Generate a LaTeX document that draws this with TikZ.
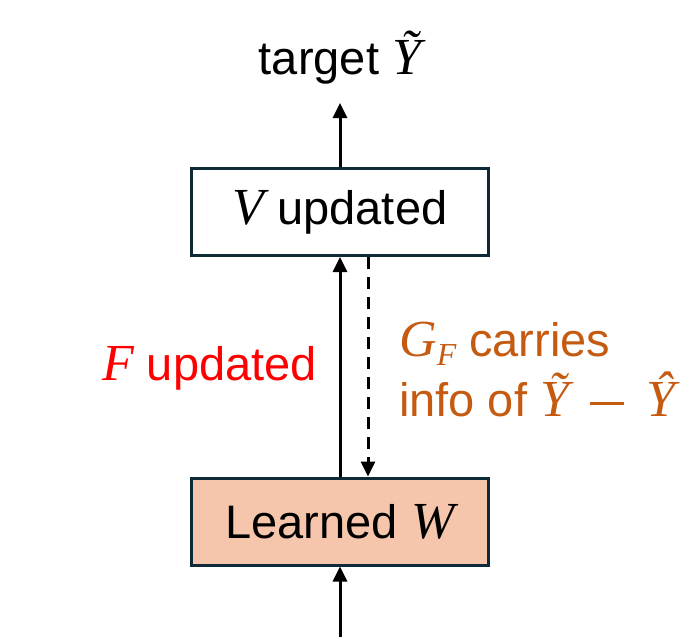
\documentclass[tikz,border=0pt]{standalone}
\usepackage{fontspec}
\setmainfont{Liberation Sans}
\newfontfamily\mathserif{Liberation Serif}
\usetikzlibrary{arrows.meta}
\definecolor{boxline}{HTML}{0E2A38}
\definecolor{peach}{HTML}{F5C6AB}
\definecolor{rust}{HTML}{C55A11}
% italic serif letters for the symbols
\newcommand{\symsize}{\fontsize{52}{60}\selectfont}
\newcommand{\sym}[1]{{\symsize\mathserif\itshape #1}}
\newcommand{\symtilde}[1]{{\symsize\mathserif\itshape\~{#1}}}
\newcommand{\symhat}[1]{{\symsize\mathserif\itshape\^{#1}}}
\newcommand{\lowsub}[1]{\raisebox{-0.35ex}{\fontsize{32}{32}\selectfont\mathserif\itshape #1}}
\newcommand{\minussign}{\hspace{21pt}\rule[12pt]{34pt}{3pt}\hspace{22pt}}
\tikzset{
  block/.style={draw=boxline, line width=3pt, inner sep=0pt,
    minimum width=297pt, minimum height=87pt, font=\fontsize{47}{54}\selectfont},
  flow/.style={line width=3pt, -{Triangle[width=14pt,length=15pt]}},
  lbl/.style={font=\fontsize{47}{60}\selectfont, inner sep=0pt}
}
\begin{document}
\begin{tikzpicture}[x=1pt,y=-1pt]
\useasboundingbox (0,0) rectangle (681,637);
% boxes
\node[block, fill=white] (vu) at (340,212) {\sym{V} updated};
\node[block, fill=peach] (lw) at (340,521.5) {Learned \sym{W}};
% labels
\node[lbl, anchor=center] (tgt) at (340,58) {target \symtilde{Y}};
\coordinate (top) at (340,103);
\coordinate (bot) at (340,637);
\node[lbl, text=red, anchor=east] (fu) at (317,368) {\sym{F} updated};
\node[lbl, text=rust, anchor=west, align=left] (gf) at (399,370)
  {\sym{G}\lowsub{F} carries\\info of \symtilde{Y}\minussign\symhat{Y}};
% connectors
\draw[flow] (vu.north) -- (top);
\draw[flow] (lw.north) -- (vu.south);
\draw[flow, dash pattern=on 12pt off 8pt] ([xshift=28pt]vu.south) -- ([xshift=28pt]lw.north);
\draw[flow] (bot) -- (lw.south);
\end{tikzpicture}
\end{document}
